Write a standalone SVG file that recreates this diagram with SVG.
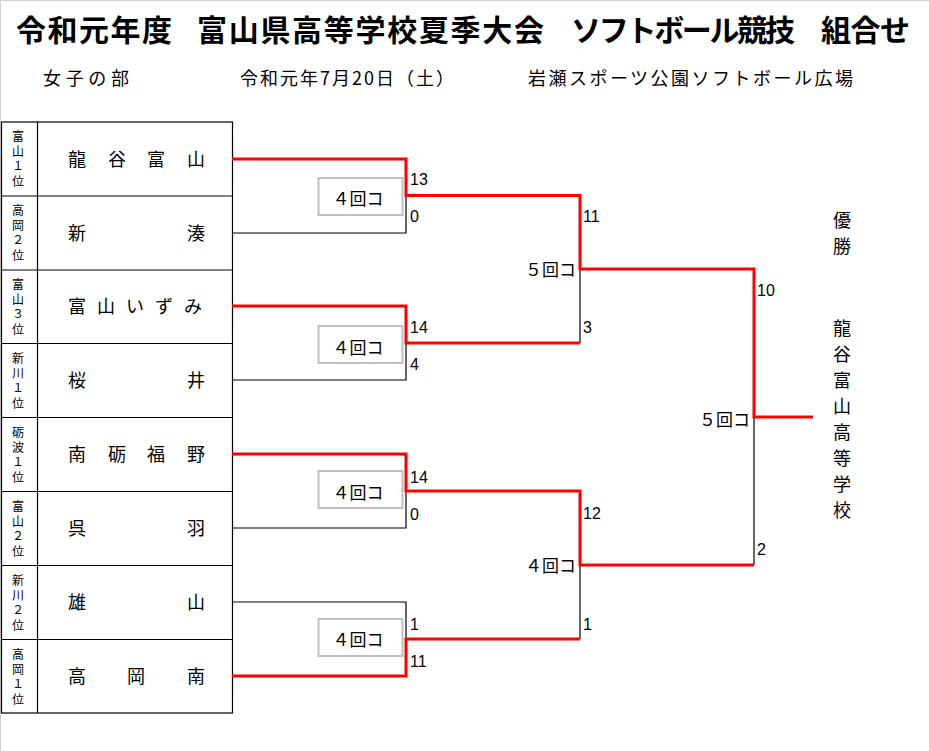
<svg xmlns="http://www.w3.org/2000/svg" width="929" height="751" viewBox="0 0 929 751">
<style>
.jp{font-family:"Noto Sans CJK JP","Noto Sans",sans-serif;fill:#000}
.title{font-size:30px;font-weight:bold}
.sub{font-size:18px}
.team{font-size:18px;text-anchor:middle}
.rank{font-size:12px;writing-mode:vertical-rl;text-orientation:upright;letter-spacing:3px}
.rnd{font-size:17px}
.num{font-family:"Liberation Sans",Arial,sans-serif;font-size:16px;fill:#000}
.grid{fill:none;stroke:#000;stroke-width:1.2}
.box{fill:#fff;stroke:#bfbfbf;stroke-width:2}
.win{fill:none;stroke:#ff0000;stroke-width:3}
.lose{fill:none;stroke:#000;stroke-width:1.2}
</style>
<rect x="0" y="0" width="929" height="751" fill="#fff"/>
<line x1="0.5" y1="0" x2="0.5" y2="751" stroke="#d0d0d0" stroke-width="1"/>
<line x1="0" y1="0.5" x2="929" y2="0.5" stroke="#d0d0d0" stroke-width="1"/>

<g id="header">
<text class="jp title" x="16" y="41" textLength="156">令和元年度</text>
<text class="jp title" x="197" y="41" textLength="347">富山県高等学校夏季大会</text>
<text class="jp title" x="571" y="41" textLength="224">ソフトボール競技</text>
<text class="jp title" x="821" y="41" textLength="89">組合せ</text>
<text class="jp sub" x="43" y="85" textLength="86">女子の部</text>
<text class="jp sub" x="240" y="85" textLength="214">令和元年7月20日（土）</text>
<text class="jp sub" x="528" y="85" textLength="325">岩瀬スポーツ公園ソフトボール広場</text>
</g>

<g id="table">
<rect class="grid" x="1.5" y="122" width="231" height="591"/>
<line class="grid" x1="37.5" y1="122" x2="37.5" y2="713"/>
<line class="grid" x1="1.5" y1="196" x2="232.5" y2="196"/>
<line class="grid" x1="1.5" y1="270" x2="232.5" y2="270"/>
<line class="grid" x1="1.5" y1="343.5" x2="232.5" y2="343.5"/>
<line class="grid" x1="1.5" y1="417.5" x2="232.5" y2="417.5"/>
<line class="grid" x1="1.5" y1="491.5" x2="232.5" y2="491.5"/>
<line class="grid" x1="1.5" y1="565.5" x2="232.5" y2="565.5"/>
<line class="grid" x1="1.5" y1="639.5" x2="232.5" y2="639.5"/>
</g>

<g id="team1">
<text class="jp rank" x="18" y="130">富山１位</text>
<text class="jp team" x="77 117 156 196" y="166">龍谷富山</text>
</g>
<g id="team2">
<text class="jp rank" x="18" y="204">高岡２位</text>
<text class="jp team" x="77 196" y="240">新湊</text>
</g>
<g id="team3">
<text class="jp rank" x="18" y="278">富山３位</text>
<text class="jp team" x="77 106 135 164 193" y="313">富山いずみ</text>
</g>
<g id="team4">
<text class="jp rank" x="18" y="352">新川１位</text>
<text class="jp team" x="77 196" y="387">桜井</text>
</g>
<g id="team5">
<text class="jp rank" x="18" y="426">砺波１位</text>
<text class="jp team" x="77 117 156 196" y="461">南砺福野</text>
</g>
<g id="team6">
<text class="jp rank" x="18" y="500">富山２位</text>
<text class="jp team" x="77 196" y="535">呉羽</text>
</g>
<g id="team7">
<text class="jp rank" x="18" y="574">新川２位</text>
<text class="jp team" x="77 196" y="609">雄山</text>
</g>
<g id="team8">
<text class="jp rank" x="18" y="648">高岡１位</text>
<text class="jp team" x="77 136 196" y="683">高岡南</text>
</g>

<g id="connectors">
<path class="lose" d="M232,233 H406 V195.5"/>
<path class="lose" d="M232,380 H406 V343"/>
<path class="lose" d="M580,343 V269"/>
<path class="lose" d="M232,528 H406 V491"/>
<path class="lose" d="M232,602 H406 V639"/>
<path class="lose" d="M580,639 V565"/>
<path class="lose" d="M754,565 V417"/>
<path class="win" d="M232,159 H406 V195.5 H580 V269 H754 V417 H813"/>
<path class="win" d="M232,306 H406 V343 H580"/>
<path class="win" d="M232,454 H406 V491 H580 V565 H754"/>
<path class="win" d="M232,676 H406 V639 H580"/>
</g>

<g id="match1">
<rect class="box" x="318.5" y="178" width="84" height="37"/>
<text class="jp rnd" x="358" y="205" text-anchor="middle">４回コ</text>
<text class="num" x="410" y="185">13</text>
<text class="num" x="410" y="222">0</text>
</g>
<g id="match2">
<rect class="box" x="318.5" y="326" width="84" height="37"/>
<text class="jp rnd" x="358" y="354" text-anchor="middle">４回コ</text>
<text class="num" x="410" y="333">14</text>
<text class="num" x="410" y="370">4</text>
</g>
<g id="match3">
<rect class="box" x="318.5" y="471" width="84" height="37"/>
<text class="jp rnd" x="358" y="499" text-anchor="middle">４回コ</text>
<text class="num" x="410" y="483">14</text>
<text class="num" x="410" y="520">0</text>
</g>
<g id="match4">
<rect class="box" x="318.5" y="619" width="84" height="37"/>
<text class="jp rnd" x="358" y="646" text-anchor="middle">４回コ</text>
<text class="num" x="410" y="630">1</text>
<text class="num" x="410" y="667">11</text>
</g>
<g id="semi1">
<text class="jp rnd" x="576" y="276" text-anchor="end">５回コ</text>
<text class="num" x="583" y="222">11</text>
<text class="num" x="583" y="333">3</text>
</g>
<g id="semi2">
<text class="jp rnd" x="576" y="572" text-anchor="end">４回コ</text>
<text class="num" x="583" y="519">12</text>
<text class="num" x="583" y="630">1</text>
</g>
<g id="final">
<text class="jp rnd" x="750" y="426" text-anchor="end">５回コ</text>
<text class="num" x="757" y="296">10</text>
<text class="num" x="757" y="555">2</text>
</g>
<g id="champion">
<text class="jp team" x="842" y="227">優</text>
<text class="jp team" x="842" y="253">勝</text>
<text class="jp team" x="842" y="335">龍</text>
<text class="jp team" x="842" y="361">谷</text>
<text class="jp team" x="842" y="387">富</text>
<text class="jp team" x="842" y="413">山</text>
<text class="jp team" x="842" y="439">高</text>
<text class="jp team" x="842" y="465">等</text>
<text class="jp team" x="842" y="491">学</text>
<text class="jp team" x="842" y="517">校</text>
</g>
</svg>
